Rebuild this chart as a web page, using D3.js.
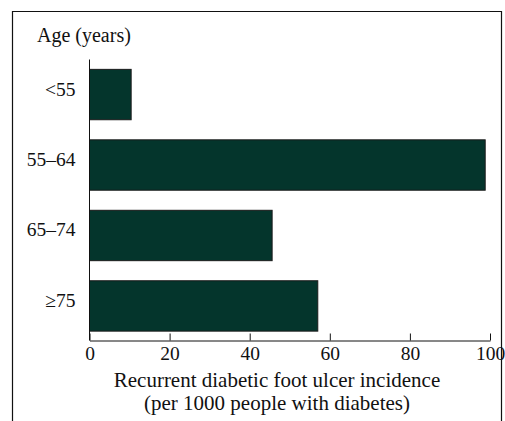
<!DOCTYPE html>
<html><head><meta charset="utf-8">
<script src="https://cdn.jsdelivr.net/npm/d3@7"></script>
<style>body{margin:0;background:#fff}svg{display:block}</style>
</head><body><svg id="c" width="505" height="421"></svg>
<script>
const categories = ["<55", "55–64", "65–74", "≥75"];
const values = [10.4, 98.8, 45.6, 57.0];
const xTicks = [0, 20, 40, 60, 80, 100];
const yTitle = "Age (years)";
const xTitle = ["Recurrent diabetic foot ulcer incidence", "(per 1000 people with diabetes)"];

const FONT = '"Liberation Serif", "Times New Roman", serif';
const svg = d3.select("#c");
const x0 = 89.5, x1 = 490, axisY = 340.5;
const x = d3.scaleLinear().domain([0, 100]).range([x0, x1]);
const y = d3.scaleBand().domain(categories).range([59.5, 341]).paddingInner(0.285).paddingOuter(0.14);

// frame (top, left, right; open at bottom)
svg.append("path").attr("d", "M12.5,421V11.5H501.5V421").attr("fill", "none").attr("stroke", "#111").attr("stroke-width", 1.2);

svg.append("g").selectAll("rect").data(values).join("rect")
  .attr("x", x(0)).attr("y", (d, i) => y(categories[i]))
  .attr("width", d => x(d) - x(0)).attr("height", y.bandwidth())
  .attr("fill", "#04352c").attr("stroke", "#1a1a1a").attr("stroke-width", 1);

// x axis
const xa = svg.append("g").attr("transform", `translate(0,${axisY})`)
  .call(d3.axisBottom(x).tickValues(xTicks).tickSizeInner(-7).tickSizeOuter(0).tickPadding(12));
xa.select(".domain").attr("stroke", "#111");
xa.selectAll(".tick line").attr("stroke", "#111");
xa.selectAll(".tick text").style("font-family", FONT).style("font-size", "19.5px").style("fill", "#111")
  .attr("y", 0).attr("dy", "1.0em");

// y axis
const ya = svg.append("g").attr("transform", `translate(${x0},0)`)
  .call(d3.axisLeft(y).tickSize(0).tickPadding(14));
ya.select(".domain").attr("stroke", "#111").attr("d", `M0,59.5V${axisY}`);
ya.selectAll(".tick text").style("font-family", FONT).style("font-size", "19.5px").style("fill", "#111").attr("dy", "0.05em");

svg.append("text").attr("x", 37).attr("y", 42).style("font-family", FONT).style("font-size", "20px").style("fill", "#111").text(yTitle);
svg.selectAll(".xt").data(xTitle).join("text").attr("class", "xt")
  .attr("x", 277).attr("y", (d, i) => 387 + i * 23).attr("text-anchor", "middle")
  .style("font-family", FONT).style("font-size", "21px").style("fill", "#111").text(d => d);
</script></body></html>
